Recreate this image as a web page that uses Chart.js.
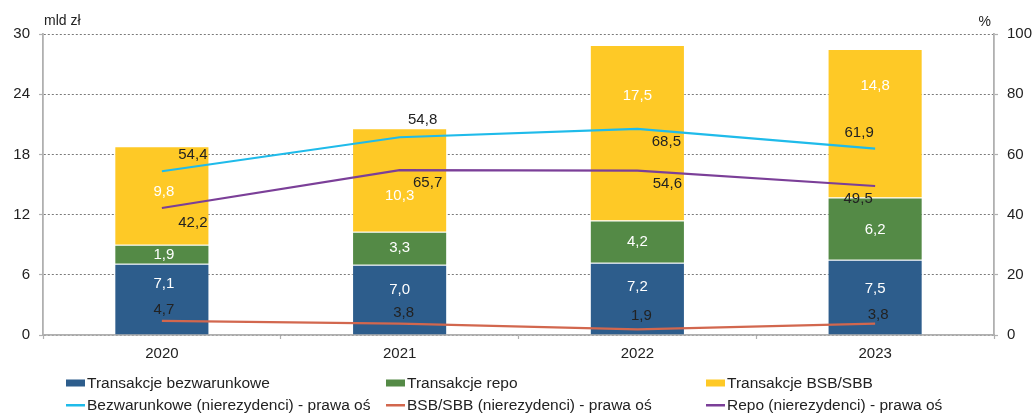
<!DOCTYPE html>
<html>
<head>
<meta charset="utf-8">
<script src="https://cdn.jsdelivr.net/npm/chart.js@4"></script>
<style>
  html, body { margin: 0; padding: 0; background: #fff; }
  canvas { display: block; }
</style>
</head>
<body>
<canvas id="wykres" width="1035" height="414"></canvas>
<script>
// ---------------- dane ----------------
const lata = ["2020", "2021", "2022", "2023"];

const bezwarunkowe = [7.1, 7.0, 7.2, 7.5];
const repo = [1.9, 3.3, 4.2, 6.2];
const bsbSbb = [9.8, 10.3, 17.5, 14.8];

const bezwarunkoweNierez = [54.4, 65.7, 68.5, 61.9];
const bsbSbbNierez = [4.7, 3.8, 1.9, 3.8];
const repoNierez = [42.2, 54.8, 54.6, 49.5];

const lewaOs = { min: 0, max: 30, krok: 6 };
const prawaOs = { min: 0, max: 100, krok: 20 };

// przesunięcia etykiet wartości [dx, dy] w px, żeby się nie nakładały
const przesuniecia = [
  [[2, -15], [0, -10], [0, -12], [0, -8]],
  [[2, 1], [0, 0], [0, 0], [0, 1]],
  [[2, -4], [0, 16], [0, -37], [0, -37]],
  [[31, -16], [28, 46], [29, 13], [-16, -16]],
  [[2, -11], [4, -11], [4, -13], [3, -9]],
  [[31, 15], [23, -50], [30, 13], [-17, 13]]
];

const FONT = '"Liberation Sans", Arial, sans-serif';
const szary = '#b0b0b0';

const fmt = v => v.toFixed(1).replace('.', ',');

// ---------------- etykiety wartości ----------------
const etykiety = {
  id: 'etykiety',
  afterDatasetsDraw(chart) {
    const ctx = chart.ctx;
    ctx.save();
    ctx.font = '15px ' + FONT;
    ctx.textAlign = 'center';
    ctx.textBaseline = 'middle';
    chart.data.datasets.forEach((ds, i) => {
      const meta = chart.getDatasetMeta(i);
      meta.data.forEach((el, j) => {
        const [dx, dy] = przesuniecia[i][j];
        let y;
        if (meta.type === 'line') {
          y = el.y;
          ctx.fillStyle = '#222';
        } else {
          y = (el.y + el.base) / 2;
          ctx.fillStyle = '#fff';
        }
        ctx.fillText(fmt(ds.data[j]), el.x + dx, y + dy);
      });
    });
    ctx.restore();
  }
};

// ---------------- opisy osi i legenda ----------------
const opisyOsi = {
  id: 'opisyOsi',
  afterDraw(chart) {
    const ctx = chart.ctx;
    const area = chart.chartArea;
    ctx.save();
    ctx.fillStyle = '#222';
    ctx.font = '14px ' + FONT;
    ctx.textBaseline = 'middle';
    ctx.textAlign = 'left';
    ctx.fillText('mld zł', area.left + 1, 21);
    ctx.textAlign = 'right';
    ctx.fillText('%', area.right - 3, 22);
    ctx.restore();
  }
};

const legenda = {
  id: 'legenda',
  afterDraw(chart) {
    const ctx = chart.ctx;
    const kolumny = [66, 386, 706];
    const wiersze = [383, 405];
    ctx.save();
    ctx.font = '15.5px ' + FONT;
    ctx.textBaseline = 'middle';
    ctx.textAlign = 'left';
    chart.data.datasets.forEach((ds, i) => {
      const x = kolumny[i % 3];
      const y = wiersze[Math.floor(i / 3)];
      if (ds.type === 'line') {
        ctx.fillStyle = ds.borderColor;
        ctx.fillRect(x, y - 1, 19, 2.5);
      } else {
        ctx.fillStyle = ds.backgroundColor;
        ctx.fillRect(x, y - 3.5, 19, 7);
      }
      ctx.fillStyle = '#222';
      ctx.fillText(ds.label, x + 21, y + 0.5);
    });
    ctx.restore();
  }
};

// ---------------- wykres ----------------
const slupek = (label, data, kolor) => ({
  label: label,
  data: data,
  backgroundColor: kolor,
  borderColor: 'rgba(255,255,255,0.35)',
  borderWidth: 1,
  barPercentage: 0.4,
  categoryPercentage: 1,
  stack: 's',
  yAxisID: 'y',
  order: 1
});

const linia = (label, data, kolor) => ({
  type: 'line',
  label: label,
  data: data,
  borderColor: kolor,
  backgroundColor: kolor,
  borderWidth: 2.2,
  pointRadius: 0,
  tension: 0,
  yAxisID: 'y1',
  order: 0
});

new Chart(document.getElementById('wykres'), {
  type: 'bar',
  data: {
    labels: lata,
    datasets: [
      slupek('Transakcje bezwarunkowe', bezwarunkowe, '#2d5d8c'),
      slupek('Transakcje repo', repo, '#548a46'),
      slupek('Transakcje BSB/SBB', bsbSbb, '#fec926'),
      linia('Bezwarunkowe (nierezydenci) - prawa oś', bezwarunkoweNierez, '#1fbbea'),
      linia('BSB/SBB (nierezydenci) - prawa oś', bsbSbbNierez, '#d2674e'),
      linia('Repo (nierezydenci) - prawa oś', repoNierez, '#7b3f98')
    ]
  },
  options: {
    responsive: false,
    animation: false,
    layout: { padding: { top: 34, left: 0, right: 0, bottom: 0 } },
    plugins: {
      legend: { display: false },
      tooltip: { enabled: false }
    },
    scales: {
      x: {
        stacked: true,
        afterFit: s => { s.height = 79; },
        grid: {
          offset: true,
          drawOnChartArea: false,
          tickLength: 4,
          tickColor: szary,
          tickWidth: 1.2
        },
        border: { color: szary, width: 1.8 },
        ticks: { color: '#222', padding: 6, font: { family: FONT, size: 15 } }
      },
      y: {
        stacked: true,
        position: 'left',
        min: lewaOs.min,
        max: lewaOs.max,
        afterFit: s => { s.width = 43; },
        ticks: { stepSize: lewaOs.krok, color: '#222', padding: 9, font: { family: FONT, size: 15 } },
        grid: {
          color: '#7a7a7a',
          lineWidth: 1,
          tickLength: 4,
          tickColor: szary,
          tickWidth: 1.2,
          tickBorderDash: []
        },
        border: { color: szary, width: 1.8, dash: [2, 2] }
      },
      y1: {
        position: 'right',
        min: prawaOs.min,
        max: prawaOs.max,
        afterFit: s => { s.width = 41; },
        ticks: { stepSize: prawaOs.krok, color: '#222', padding: 9, font: { family: FONT, size: 15 } },
        grid: {
          drawOnChartArea: false,
          tickLength: 4,
          tickColor: szary,
          tickWidth: 1.2
        },
        border: { color: szary, width: 1.8 }
      }
    }
  },
  plugins: [etykiety, opisyOsi, legenda]
});
</script>
</body>
</html>
